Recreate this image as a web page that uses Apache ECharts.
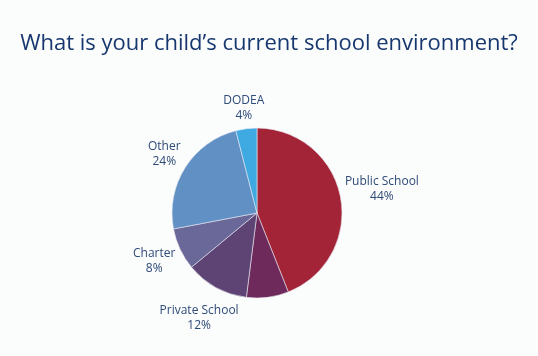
<!DOCTYPE html>
<html>
<head>
<meta charset="utf-8">
<script src="https://cdn.jsdelivr.net/npm/echarts@6/dist/echarts.min.js"></script>
<style>
html,body{margin:0;padding:0;background:#fbfcfc;}
#chart{width:538px;height:356px;}
</style>
</head>
<body>
<div id="chart"></div>
<script>
const categories = ['Public School', '', 'Private School', 'Charter', 'Other', 'DODEA'];
const values = [44, 8, 12, 8, 24, 4];
const showLabel = [true, false, true, true, true, true];
const colors = ['#a32437', '#6e2a5a', '#5e4475', '#6a6898', '#6190c5', '#3fa9e1'];

const chart = echarts.init(document.getElementById('chart'));
const GAP = 3;
chart.setOption({
  backgroundColor: '#fbfcfc',
  title: {
    text: 'What is your child\u2019s current school environment?',
    left: 'center',
    top: 28,
    textStyle: { fontFamily: 'Open Sans', fontWeight: 'normal', fontSize: 22, color: '#17386e' }
  },
  series: [{
    type: 'pie',
    center: [257, 213],
    radius: [0, 85],
    startAngle: 90,
    clockwise: true,
    animation: false,
    itemStyle: { borderColor: '#e8e8f0', borderWidth: 0.6 },
    label: {
      show: true,
      position: 'outside',
      formatter: '{b}\n{c}%',
      fontFamily: 'Open Sans',
      fontSize: 12,
      lineHeight: 15,
      color: '#2e4a78',
      align: 'center'
    },
    labelLine: { show: false },
    labelLayout: function (params) {
      const data = chart.getModel().getSeriesByIndex(0).getData();
      const lay = data.getItemLayout(params.dataIndex);
      const mid = (lay.startAngle + lay.endAngle) / 2;
      const ux = Math.cos(mid), uy = Math.sin(mid);
      const w = params.labelRect.width, h = params.labelRect.height;
      const ext = Math.abs(ux) * w / 2 + Math.abs(uy) * h / 2;
      const d = lay.r + GAP + ext;
      return {
        x: lay.cx + ux * d,
        y: lay.cy + uy * d,
        align: 'center',
        verticalAlign: 'middle'
      };
    },
    data: categories.map((c, i) => ({
      name: c,
      value: values[i],
      itemStyle: { color: colors[i] },
      label: { show: showLabel[i] }
    }))
  }]
});
</script>
</body>
</html>
